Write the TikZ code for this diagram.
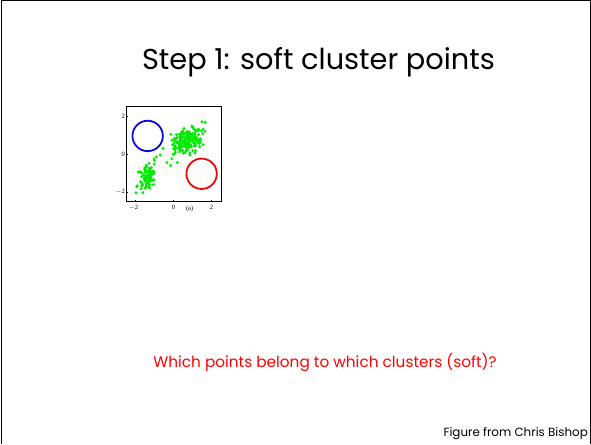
\documentclass[tikz,border=0pt]{standalone}
\usepackage{fontspec}
\setmainfont{Poppins}
\usepackage{tikz}
\usetikzlibrary{positioning}
\definecolor{ptgreen}{RGB}{0,235,0}
\definecolor{ringblue}{RGB}{10,10,220}
\definecolor{ringred}{RGB}{230,10,10}
\tikzset{
  pt/.style={fill=ptgreen, draw=none},
  ticklab/.style={font=\fontsize{6.5}{6.5}\selectfont, inner sep=1pt},
}
\newfontfamily\axisfont{Liberation Serif}

\begin{document}
\begin{tikzpicture}[x=1pt, y=-1pt]
            \useasboundingbox (0,0) rectangle (591,444);
            \draw[line width=1pt] (1,444) -- (1,1) -- (590,1) -- (590,444);

            \node[anchor=base] (title) at (318.5,70) {\fontsize{28.8}{32}\selectfont Step 1: soft cluster points};
            \node[anchor=base, text=red] (question) at (325,367) {\fontsize{15.3}{18}\selectfont Which points belong to which clusters (soft)?};
            \node[anchor=base east, inner sep=0pt] (credit) at (588,436) {\fontsize{11.9}{13}\selectfont Figure from Chris Bishop};

            \begin{scope}[shift={(173.5,154)}, x=19pt, y=19pt]
                \draw[line width=0.4pt] (-2.5,-2.5) rectangle (2.5,2.5);
                \foreach \t in {-2,0,2} {
                    \draw[line width=0.3pt] (\t,-2.5) -- (\t,-2.42);
                    \draw[line width=0.3pt] (-2.5,\t) -- (-2.42,\t);
                }
                \node[ticklab, left] (ym) at (-2.5,-2) {\axisfont $-$2};
                \node[ticklab, left] (y0) at (-2.5,0) {\axisfont 0};
                \node[ticklab, left] (yp) at (-2.5,2) {\axisfont 2};
                \node[ticklab, below=2pt] (xm) at (-2.1,-2.5) {\axisfont $-$2};
                \node[ticklab, below=2pt] (x0) at (0,-2.5) {\axisfont 0};
                \node[ticklab, below=2pt] (xp) at (2.0,-2.5) {\axisfont 2};
                \node[ticklab, below=3pt] (lab) at (0.85,-2.5) {\axisfont (a)};

                \begin{scope}
                \clip (-2.45,-2.45) rectangle (2.45,2.45);
                \pgfmathsetseed{42}
                \foreach \i in {1,...,190} {
                    \pgfmathsetmacro\u{(rand+rand+rand)}
                    \pgfmathsetmacro\v{(rand+rand+rand)}
                    \fill[pt] ({0.75+0.38*\u}, {0.72+0.1*\u+0.33*\v}) circle (1.6pt);
                }
                \foreach \i in {1,...,95} {
                    \pgfmathsetmacro\u{(rand+rand+rand)}
                    \pgfmathsetmacro\v{(rand+rand+rand)}
                    \fill[pt] ({-1.4+0.24*\u}, {-1.3+0.12*\u+0.38*\v}) circle (1.6pt);
                }
                \foreach \p in {(-0.9,-0.15),(-0.7,-0.05),(-0.35,-0.45),(-0.15,-0.6),(0.2,-0.45),(-0.55,0.3),(-0.1,-0.25),(-1.0,-0.35),(0.1,0.1),(1.5,1.7)} {
                    \fill[pt] \p circle (1.6pt);
                }
                \end{scope}

                \draw[ringblue, line width=1.8pt] (-1.36,0.95) circle (0.8);
                \draw[ringred, line width=1.8pt] (1.48,-1.04) circle (0.8);
            \end{scope}
        \end{tikzpicture}
\end{document}
